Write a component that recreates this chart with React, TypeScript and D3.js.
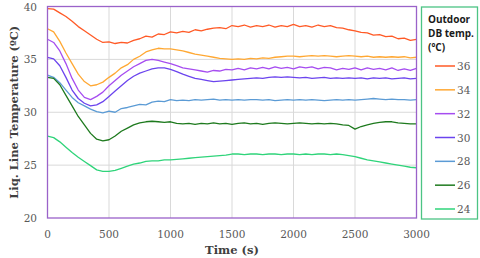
import React, { useRef, useEffect } from "react";
import * as d3 from "d3";

const times = d3.range(0, 3001, 50);
const seriesNames = ["36", "34", "32", "30", "28", "26", "24"];
const colors = ["#ff5a26", "#ffa833", "#a64df0", "#6b44ee", "#5b9bd5", "#1e7a1e", "#2fd47a"];

const t36 = [39.8, 39.75, 39.4, 39.05, 38.6, 38.1, 37.7, 37.3, 36.9, 36.6, 36.65, 36.5, 36.6, 36.55, 36.8, 36.95, 37.2, 37.1, 37.4, 37.35, 37.6, 37.5, 37.65, 37.55, 37.8, 37.7, 37.85, 37.95, 38.0, 37.9, 38.2, 38.1, 38.25, 38.05, 38.2, 38.1, 38.25, 38.05, 38.2, 38.1, 38.3, 38.1, 38.2, 38.05, 38.25, 38.1, 38.2, 38.0, 37.95, 37.8, 37.7, 37.55, 37.5, 37.3, 37.35, 37.15, 37.2, 36.95, 37.0, 36.8, 36.9];
const t34 = [37.9, 37.6, 36.7, 35.6, 34.6, 33.6, 32.9, 32.5, 32.6, 32.85, 33.3, 33.7, 34.2, 34.5, 35.0, 35.3, 35.7, 35.9, 36.05, 36.0, 36.0, 35.9, 35.8, 35.65, 35.5, 35.4, 35.3, 35.2, 35.1, 35.05, 35.0, 35.05, 35.0, 35.1, 35.05, 35.15, 35.1, 35.2, 35.25, 35.3, 35.3, 35.25, 35.3, 35.35, 35.3, 35.35, 35.3, 35.25, 35.3, 35.35, 35.3, 35.25, 35.3, 35.2, 35.25, 35.2, 35.25, 35.2, 35.25, 35.15, 35.2];
const t32 = [36.9, 36.6, 35.8, 34.6, 33.2, 32.1, 31.4, 31.2, 31.5, 31.9, 32.5, 33.0, 33.5, 33.9, 34.3, 34.6, 34.9, 35.0, 34.9, 34.75, 34.6, 34.4, 34.2, 34.1, 34.0, 33.9, 33.8, 33.95, 33.9, 34.05, 34.0, 34.15, 34.0, 34.2, 34.1, 34.25, 34.1, 34.3, 34.15, 34.25, 34.1, 34.3, 34.2, 34.3, 34.1, 34.25, 34.2, 34.0, 34.15, 34.05, 34.2, 34.0, 34.2, 34.05, 34.15, 34.0, 34.2, 33.95, 34.1, 33.95, 34.15];
const t30 = [35.2, 35.05, 34.4, 33.3, 32.1, 31.3, 30.85, 30.6, 30.7, 31.0, 31.5, 32.0, 32.5, 33.0, 33.4, 33.7, 33.9, 34.1, 34.2, 34.2, 34.05, 33.85, 33.6, 33.4, 33.2, 33.1, 33.0, 32.9, 32.95, 33.0, 33.05, 33.1, 33.15, 33.2, 33.25, 33.2, 33.3, 33.35, 33.3, 33.35, 33.3, 33.25, 33.3, 33.2, 33.25, 33.3, 33.2, 33.25, 33.2, 33.25, 33.2, 33.25, 33.15, 33.25, 33.2, 33.25, 33.15, 33.2, 33.25, 33.15, 33.2];
const t28 = [33.5, 33.3, 32.8, 32.1, 31.4, 30.9, 30.6, 30.3, 30.05, 29.95, 30.1, 30.0, 30.35, 30.45, 30.6, 30.75, 30.7, 30.95, 31.05, 31.0, 31.2, 31.1, 31.15, 31.1, 31.2, 31.15, 31.2, 31.25, 31.15, 31.2, 31.15, 31.2, 31.15, 31.2, 31.2, 31.15, 31.2, 31.1, 31.15, 31.2, 31.15, 31.2, 31.15, 31.2, 31.15, 31.1, 31.15, 31.2, 31.15, 31.2, 31.15, 31.2, 31.25, 31.3, 31.25, 31.2, 31.25, 31.2, 31.2, 31.15, 31.2];
const t26 = [33.3, 33.2, 32.6, 31.6, 30.6, 29.6, 28.8, 28.0, 27.45, 27.3, 27.4, 27.75, 28.2, 28.5, 28.8, 29.0, 29.1, 29.15, 29.1, 29.05, 29.1, 28.95, 28.9, 28.95, 28.85, 28.95, 28.9, 29.0, 28.9, 28.95, 28.85, 28.95, 29.0, 28.9, 28.95, 28.85, 28.95, 29.0, 28.95, 28.9, 28.95, 29.0, 28.95, 28.9, 28.95, 28.9, 28.95, 28.9, 28.8, 28.75, 28.4, 28.65, 28.8, 28.95, 29.05, 29.1, 29.1, 29.0, 28.95, 28.9, 28.9];
const t24 = [27.75, 27.6, 27.2, 26.7, 26.2, 25.75, 25.35, 24.95, 24.55, 24.4, 24.4, 24.5, 24.7, 24.9, 25.1, 25.2, 25.35, 25.4, 25.4, 25.5, 25.5, 25.55, 25.6, 25.65, 25.7, 25.75, 25.8, 25.85, 25.9, 25.95, 26.05, 26.05, 26.0, 26.05, 26.05, 26.0, 26.05, 26.05, 26.0, 26.05, 26.05, 26.0, 26.05, 26.0, 26.05, 26.05, 26.0, 26.05, 26.0, 25.9, 25.8, 25.65, 25.5, 25.4, 25.3, 25.2, 25.1, 25.0, 24.9, 24.8, 24.75];

const allSeries = [t36, t34, t32, t30, t28, t26, t24];
const xTicks = [0, 500, 1000, 1500, 2000, 2500, 3000];
const yTicks = [20, 25, 30, 35, 40];

function App() {
  const svgRef = useRef<SVGSVGElement>(null);

  useEffect(() => {
    const svg = d3.select(svgRef.current);
    svg.selectAll("*").remove();

    const left = 47.5;
    const right = 416.5;
    const top = 6.5;
    const bottom = 218;

    const x = d3.scaleLinear().domain([0, 3000]).range([left, right]);
    const y = d3.scaleLinear().domain([20, 40]).range([bottom, top]);

    // grid
    svg
      .append("g")
      .selectAll("line")
      .data(xTicks.slice(1, -1))
      .join("line")
      .attr("x1", (d) => x(d))
      .attr("x2", (d) => x(d))
      .attr("y1", top)
      .attr("y2", bottom)
      .attr("stroke", "#d9d9d9")
      .attr("stroke-width", 1);
    svg
      .append("g")
      .selectAll("line")
      .data(yTicks.slice(1, -1))
      .join("line")
      .attr("x1", left)
      .attr("x2", right)
      .attr("y1", (d) => y(d))
      .attr("y2", (d) => y(d))
      .attr("stroke", "#d9d9d9")
      .attr("stroke-width", 1);

    const line = d3
      .line<number>()
      .x((d, i) => x(times[i]))
      .y((d) => y(d));

    svg
      .append("g")
      .selectAll("path")
      .data(allSeries)
      .join("path")
      .attr("fill", "none")
      .attr("stroke", (d, i) => colors[i])
      .attr("stroke-width", 1.3)
      .attr("stroke-linejoin", "round")
      .attr("d", (d) => line(d));

    // plot border
    svg
      .append("rect")
      .attr("x", left)
      .attr("y", top)
      .attr("width", right - left)
      .attr("height", bottom - top)
      .attr("fill", "none")
      .attr("stroke", "#9a62c9")
      .attr("stroke-width", 1.3);

    const tickFont = "'DejaVu Serif', serif";

    svg
      .append("g")
      .selectAll("text")
      .data(xTicks)
      .join("text")
      .attr("x", (d) => x(d))
      .attr("y", 238)
      .attr("text-anchor", "middle")
      .attr("font-family", tickFont)
      .attr("font-size", 10.5)
      .attr("fill", "#595959")
      .text((d) => d);

    svg
      .append("g")
      .selectAll("text")
      .data(yTicks)
      .join("text")
      .attr("x", 37)
      .attr("y", (d) => y(d) + 4)
      .attr("text-anchor", "end")
      .attr("font-family", tickFont)
      .attr("font-size", 10.5)
      .attr("fill", "#595959")
      .text((d) => d);

    svg
      .append("text")
      .attr("x", 232)
      .attr("y", 254)
      .attr("text-anchor", "middle")
      .attr("font-family", tickFont)
      .attr("font-weight", "bold")
      .attr("font-size", 11.5)
      .attr("fill", "#404040")
      .text("Time (s)");

    svg
      .append("text")
      .attr("transform", `translate(18, ${(top + bottom) / 2}) rotate(-90)`)
      .attr("text-anchor", "middle")
      .attr("font-family", tickFont)
      .attr("font-weight", "bold")
      .attr("font-size", 11.5)
      .attr("fill", "#404040")
      .text("Liq. Line Temperature (ºC)");

    // legend
    const lg = svg.append("g");
    lg.append("rect")
      .attr("x", 421.5)
      .attr("y", 7)
      .attr("width", 56)
      .attr("height", 212)
      .attr("fill", "white")
      .attr("stroke", "#4cc484")
      .attr("stroke-width", 1.3);
    ["Outdoor", "DB temp.", "(ºC)"].forEach((t, i) => {
      lg.append("text")
        .attr("x", 428)
        .attr("y", 23 + i * 14)
        .attr("font-family", "'Open Sans', sans-serif")
        .attr("font-weight", "bold")
        .attr("font-size", 10)
        .attr("fill", "#1a1a1a")
        .text(t);
    });
    const ly = d3.scalePoint<string>().domain(seriesNames).range([66, 209]);
    const items = lg
      .selectAll("g.item")
      .data(seriesNames)
      .join("g")
      .attr("class", "item");
    items
      .append("line")
      .attr("x1", 435)
      .attr("x2", 455)
      .attr("y1", (d) => ly(d)!)
      .attr("y2", (d) => ly(d)!)
      .attr("stroke", (d, i) => colors[i])
      .attr("stroke-width", 1.5);
    items
      .append("text")
      .attr("x", 457)
      .attr("y", (d) => ly(d)! + 4)
      .attr("font-family", tickFont)
      .attr("font-size", 10.5)
      .attr("fill", "#595959")
      .text((d) => d);
  }, []);

  return (
    <svg
      ref={svgRef}
      width={480}
      height={258}
      style={{ position: "absolute", left: 0, top: 0, background: "white" }}
    ></svg>
  );
}

export default App;
